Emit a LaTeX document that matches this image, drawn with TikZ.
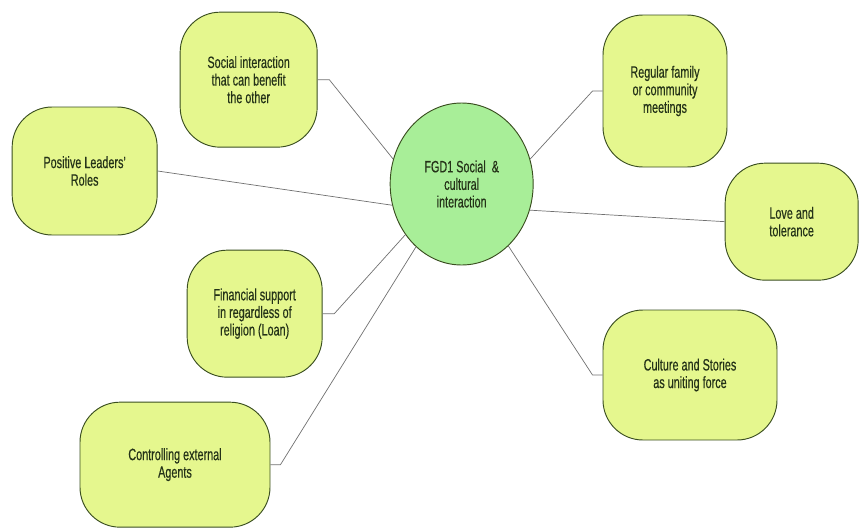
\documentclass[tikz,border=0pt]{standalone}
\usepackage{fontspec}
\setmainfont[FakeStretch=0.66,FakeBold=0.4]{Liberation Sans}
\usepackage{tikz}
\usetikzlibrary{shapes.geometric}
\definecolor{boxfill}{RGB}{229,247,142}
\definecolor{hubfill}{RGB}{168,238,152}
\definecolor{boxline}{RGB}{58,78,32}
\definecolor{textcol}{RGB}{36,50,24}
\definecolor{linkcol}{RGB}{112,112,112}
\tikzset{
  mapfig/.style={
    every node/.style={font=\fontsize{14}{15}\selectfont,align=center,text=textcol}},
  ideanode/.style={draw=boxline,line width=0.8pt,fill=boxfill,rounded corners=1.2cm},
  hubnode/.style={draw=boxline,line width=0.8pt,fill=hubfill,ellipse,inner sep=0pt},
  link/.style={draw=linkcol,line width=0.6pt},
}
\begin{document}
\begin{tikzpicture}[mapfig]
    \useasboundingbox (0,0) rectangle (25.77,-15.84);
    \node[hubnode,minimum width=4.29cm,minimum height=4.86cm] (fgd) at (13.85,-5.52)
      {FGD1 Social \ \&\\cultural\\interaction};

    \node[ideanode,minimum width=4.11cm,minimum height=4.05cm] (benefit) at (7.46,-2.39)
      {Social interaction\\that can benefit\\the other};
    \node[ideanode,minimum width=4.35cm,minimum height=3.84cm] (leaders) at (2.54,-5.13)
      {Positive Leaders'\\Roles};
    \node[ideanode,minimum width=4.05cm,minimum height=3.81cm] (loan) at (7.64,-9.41)
      {Financial support\\in regardless of\\religion (Loan)};
    \node[ideanode,minimum width=5.7cm,minimum height=3.75cm] (agents) at (5.25,-13.94)
      {Controlling external\\Agents};
    \node[ideanode,minimum width=3.72cm,minimum height=4.56cm] (meetings) at (19.95,-2.73)
      {Regular family\\or community\\meetings};
    \node[ideanode,minimum width=3.99cm,minimum height=3.51cm] (love) at (23.75,-6.65)
      {Love and\\tolerance};
    \node[ideanode,minimum width=5.22cm,minimum height=3.9cm] (stories) at (20.7,-11.25)
      {Culture and Stories\\as uniting force};

    \draw[link] (benefit.east) -- ++(0.35,0) -- (fgd.160);
    \draw[link] (leaders.east) -- (fgd.197);
    \draw[link] (loan.east) -- ++(0.35,0) -- (fgd.222);
    \draw[link] (agents.east) -- ++(0.3,0) -- (fgd.234);
    \draw[link] (meetings.west) -- ++(-0.3,0) -- (fgd.20);
    \draw[link] (love.west) -- (fgd.-21);
    \draw[link] (stories.west) -- ++(-0.3,0) -- (fgd.-53);
\end{tikzpicture}
\end{document}
